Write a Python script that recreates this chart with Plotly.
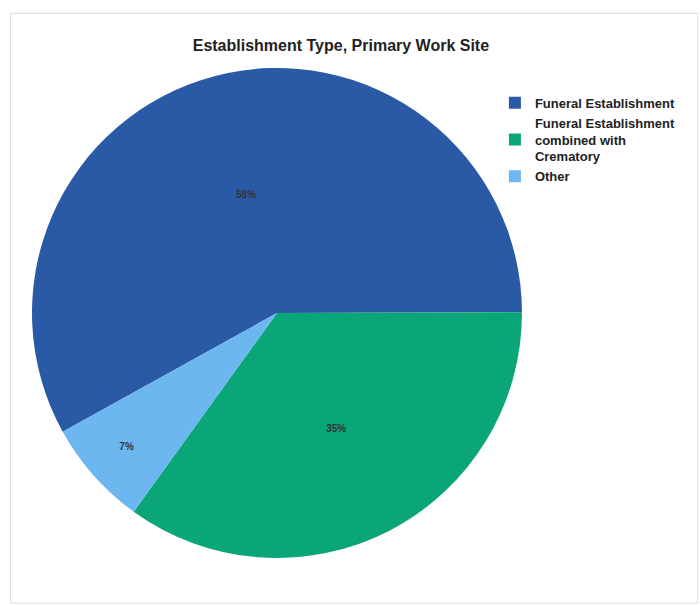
import plotly.graph_objects as go

categories = ["Funeral Establishment", "Funeral Establishment<br>combined with<br>Crematory", "Other"]
values = [58, 35, 7]
colors = ["#2a5aa5", "#0aa678", "#6db7f0"]

fig = go.Figure(go.Pie(
    labels=categories,
    values=values,
    sort=False,
    direction="clockwise",
    rotation=241,
    marker=dict(colors=colors, line=dict(width=0)),
    texttemplate="<b>%{percent:.0%}</b>",
    textposition="inside",
    insidetextfont=dict(family="Liberation Sans", size=10, color="#333333"),
    domain=dict(x=[0.0457, 0.7457], y=[0.0777, 0.8876]),
))

fig.update_layout(
    width=700, height=605,
    margin=dict(l=0, r=0, t=0, b=0),
    paper_bgcolor="white",
    title=dict(text="<b>Establishment Type, Primary Work Site</b>",
               x=0.487, xanchor="center", y=0.925, yanchor="middle",
               font=dict(family="Liberation Sans", size=16, color="#222222")),
    legend=dict(x=0.707, y=0.855, xanchor="left", yanchor="top",
                font=dict(family="Liberation Sans", size=13, color="#222222"),
                itemwidth=30, tracegroupgap=0, bgcolor="rgba(0,0,0,0)"),
    shapes=[dict(type="rect", xref="paper", yref="paper", x0=0.015, y0=0.003, x1=0.997, y1=0.978,
                 line=dict(color="#dddddd", width=1))],
)
fig.for_each_trace(lambda t: t.update(labels=["<b>" + c.replace("<br>", "</b><br><b>") + "</b>" for c in categories]))

fig.write_html("out.html")
